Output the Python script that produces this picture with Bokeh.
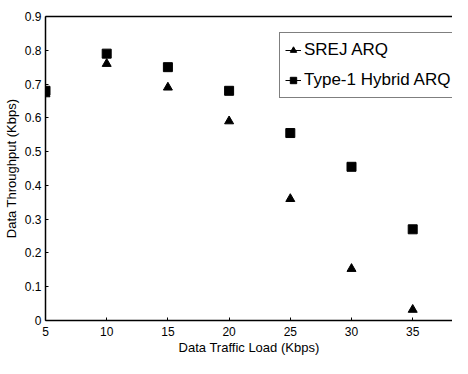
import math
from bokeh.plotting import figure
from bokeh.models import Legend, LegendItem, FixedTicker, LinearAxis, ColumnDataSource
from bokeh.embed import file_html
from bokeh.resources import INLINE

load = [5, 10, 15, 20, 25, 30, 35]
srej = [0.67, 0.76, 0.69, 0.59, 0.36, 0.153, 0.032]
hybrid = [0.68, 0.79, 0.75, 0.68, 0.555, 0.455, 0.27]
x_ticks = [5, 10, 15, 20, 25, 30, 35]
y_ticks = [0, 0.1, 0.2, 0.3, 0.4, 0.5, 0.6, 0.7, 0.8, 0.9]

FONT = "Liberation Sans"

p = figure(width=452, height=358, output_backend="svg", toolbar_location=None,
           x_range=(5, 38.25), y_range=(0, 0.9),
           min_border_left=42, min_border_right=0, min_border_top=16, min_border_bottom=38)
p.outline_line_color = None
p.xgrid.grid_line_color = None
p.ygrid.grid_line_color = None
p.background_fill_color = "white"

for ax in (p.xaxis[0], p.yaxis[0]):
    ax.axis_line_color = "black"
    ax.axis_line_width = 1.5
    ax.major_tick_line_color = "black"
    ax.major_tick_in = 3
    ax.major_tick_out = 0
    ax.minor_tick_line_color = None
    ax.major_label_text_font = FONT
    ax.major_label_text_font_size = "12px"
    ax.major_label_text_color = "black"
    ax.axis_label_text_font = FONT
    ax.axis_label_text_font_size = "13px"
    ax.axis_label_text_font_style = "normal"
    ax.axis_label_text_color = "black"

p.xaxis.ticker = FixedTicker(ticks=x_ticks)
p.yaxis.ticker = FixedTicker(ticks=y_ticks)
p.yaxis.major_label_overrides = {0: "0"}
p.xaxis.axis_label = "Data Traffic Load (Kbps)"
p.yaxis.axis_label = "Data Throughput (Kbps)"
p.xaxis.major_label_standoff = 6
p.xaxis.axis_label_standoff = 1
p.yaxis.major_label_standoff = 4
p.yaxis.axis_label_standoff = 3

top = LinearAxis(ticker=FixedTicker(ticks=[]), major_tick_line_color=None,
                 minor_tick_line_color=None, axis_line_color="black", axis_line_width=1.5)
p.add_layout(top, "above")

src = ColumnDataSource(dict(x=load, s=srej, h=hybrid))
r1 = p.scatter("x", "s", source=src, marker="triangle", size=9, color="black")
r2 = p.scatter("x", "h", source=src, marker="square", size=9, color="black")

# legend-only glyphs (no visible data)
nan_src = ColumnDataSource(dict(x=[math.nan], y=[math.nan]))
l1 = p.line("x", "y", source=nan_src, line_color="black", line_width=1)
m1 = p.scatter("x", "y", source=nan_src, marker="triangle", size=7, color="black")
l2 = p.line("x", "y", source=nan_src, line_color="black", line_width=1)
m2 = p.scatter("x", "y", source=nan_src, marker="square", size=7, color="black")

legend = Legend(items=[LegendItem(label="SREJ ARQ", renderers=[l1, m1]),
                       LegendItem(label="Type-1 Hybrid ARQ", renderers=[l2, m2])],
                location=(234, 222), label_text_font=FONT, label_text_font_size="17px",
                label_text_color="black", border_line_color="black", border_line_width=1.2,
                glyph_width=16, glyph_height=24, spacing=6, padding=5, margin=0,
                label_standoff=3, background_fill_alpha=1)
p.add_layout(legend, "center")

open("out.html", "w").write(file_html(p, INLINE))
